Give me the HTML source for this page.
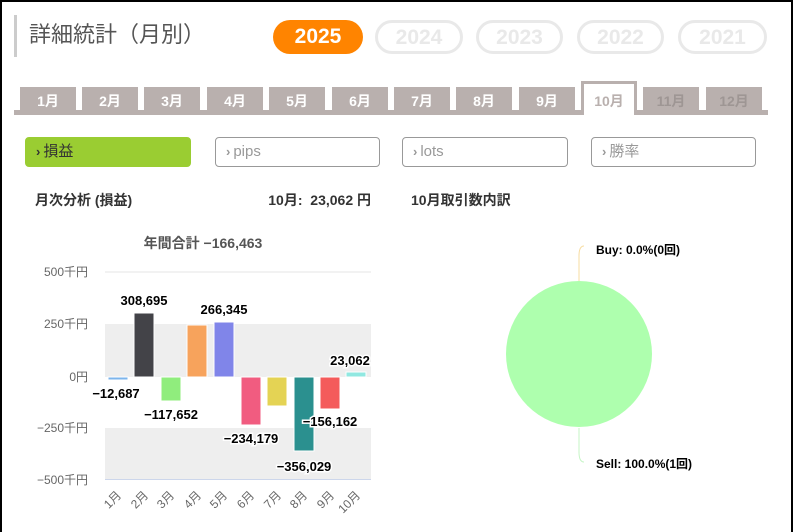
<!DOCTYPE html>
<html><head><meta charset="utf-8"><style>
*{margin:0;padding:0;box-sizing:border-box}
body{width:794px;height:532px;background:#fff;font-family:"Liberation Sans","Noto Sans CJK JP",sans-serif;position:relative;overflow:hidden}
.frame{position:absolute;left:0;top:0;width:793px;height:532px;border:2px solid #000;border-bottom:none}
.abs{position:absolute}
.title{left:14px;top:15px;height:42px;border-left:3px solid #ccc;padding-left:12px;font-size:22px;color:#555;line-height:40px}
.pill{top:20px;height:34px;border-radius:17px;font-size:21px;font-weight:bold;text-align:center;line-height:30px}
.pill.on{background:#ff8400;color:#fff;line-height:34px}
.pill.off{border:3px solid #e9e9e9;color:#e9e9e9}
.tab{top:87px;width:56px;height:26px;background:#b9b0ae;color:#fff;font-size:14px;font-weight:bold;text-align:center;line-height:28px}
.tab.dim{color:#9e9694}
.tab.act{top:81px;height:34px;background:#fff;border:3px solid #b9b0ae;border-bottom:none;color:#b9b0ae;line-height:34px}
.btn{top:137px;height:30px;border:1px solid #999;border-radius:4px;font-size:15px;color:#999;line-height:28px;padding-left:10px}
.btn b{font-size:13px;margin-right:3px}
.h{font-size:14px;font-weight:bold;color:#333;top:190px}
</style></head><body>
<div class="frame"></div>
<div class="abs title">詳細統計（月別）</div>
<div class="abs pill on" style="left:273px;width:90px">2025</div>
<div class="abs pill off" style="left:375px;width:88px">2024</div>
<div class="abs pill off" style="left:476px;width:87px">2023</div>
<div class="abs pill off" style="left:577px;width:87px">2022</div>
<div class="abs pill off" style="left:678px;width:89px">2021</div>
<div class="abs" style="left:14px;top:110px;width:754px;height:5px;background:#b9b0ae"></div>
<div class="abs tab" style="left:20px">1月</div>
<div class="abs tab" style="left:82px">2月</div>
<div class="abs tab" style="left:144px">3月</div>
<div class="abs tab" style="left:207px">4月</div>
<div class="abs tab" style="left:269px">5月</div>
<div class="abs tab" style="left:332px">6月</div>
<div class="abs tab" style="left:394px">7月</div>
<div class="abs tab" style="left:456px">8月</div>
<div class="abs tab" style="left:519px">9月</div>
<div class="abs tab act" style="left:581px">10月</div>
<div class="abs tab dim" style="left:643px">11月</div>
<div class="abs tab dim" style="left:706px">12月</div>
<div class="abs btn" style="left:25px;width:166px;background:#9acd32;border-color:#9acd32;color:#333"><b>›</b>損益</div>
<div class="abs btn" style="left:215px;width:165px"><b>›</b>pips</div>
<div class="abs btn" style="left:402px;width:166px"><b>›</b>lots</div>
<div class="abs btn" style="left:591px;width:165px"><b>›</b>勝率</div>
<div class="abs h" style="left:35px">月次分析 (損益)</div>
<div class="abs h" style="left:220px;width:151px;text-align:right">10月:&nbsp; 23,062 円</div>
<div class="abs h" style="left:411px">10月取引数内訳</div>
<svg class="abs" style="left:0;top:0" width="794" height="532" font-family="Liberation Sans,Noto Sans CJK JP,sans-serif">
<text x="203" y="248" text-anchor="middle" font-size="14" font-weight="bold" fill="#555">年間合計 −166,463</text>
<rect x="105" y="324" width="266" height="53" fill="#eee"/>
<rect x="105" y="428" width="266" height="51" fill="#eee"/>
<line x1="105" y1="272" x2="371" y2="272" stroke="#e6e6e6"/>
<line x1="105" y1="479.5" x2="371" y2="479.5" stroke="#ccd6eb"/>
<g font-size="12" fill="#666" text-anchor="end">
<text x="88" y="276">500千円</text><text x="88" y="328">250千円</text><text x="88" y="381">0円</text><text x="88" y="432">−250千円</text><text x="88" y="484">−500千円</text>
</g>
<g stroke="#fff" stroke-width="1">
<rect x="108" y="377" width="20" height="3" fill="#7cb5ec"/>
<rect x="134" y="313" width="20" height="64" fill="#434348"/>
<rect x="161" y="377" width="20" height="24" fill="#90ed7d"/>
<rect x="187" y="325" width="20" height="52" fill="#f7a35c"/>
<rect x="214" y="322" width="20" height="55" fill="#8085e9"/>
<rect x="241" y="377" width="20" height="48" fill="#f15c80"/>
<rect x="267" y="377" width="20" height="29" fill="#e4d354"/>
<rect x="294" y="377" width="20" height="74" fill="#2b908f"/>
<rect x="320" y="377" width="20" height="32" fill="#f45b5b"/>
<rect x="346" y="372" width="20" height="5" fill="#91e8e1"/>
</g>
<g font-size="13" font-weight="bold" fill="#000" text-anchor="middle" stroke="#fff" stroke-width="3" paint-order="stroke">
<text x="116" y="398">−12,687</text>
<text x="144" y="305">308,695</text>
<text x="171" y="419">−117,652</text>
<text x="224" y="314">266,345</text>
<text x="251" y="443">−234,179</text>
<text x="304" y="471">−356,029</text>
<text x="330" y="426">−156,162</text>
<text x="350" y="365">23,062</text>
</g>
<g font-size="12" fill="#666" text-anchor="end">
<text transform="translate(122,496) rotate(-45)">1月</text>
<text transform="translate(149,496) rotate(-45)">2月</text>
<text transform="translate(175,496) rotate(-45)">3月</text>
<text transform="translate(202,496) rotate(-45)">4月</text>
<text transform="translate(228,496) rotate(-45)">5月</text>
<text transform="translate(255,496) rotate(-45)">6月</text>
<text transform="translate(282,496) rotate(-45)">7月</text>
<text transform="translate(308,496) rotate(-45)">8月</text>
<text transform="translate(335,496) rotate(-45)">9月</text>
<text transform="translate(361,496) rotate(-45)">10月</text>
</g>
<path d="M584 246 Q579 246 579 256 L579 281" stroke="#f7dca0" fill="none"/>
<path d="M579 428 L579 452 Q579 462 584 462" stroke="#c5f5c5" fill="none"/>
<circle cx="579" cy="354" r="73" fill="#aaffaa" opacity="0.95"/>
<g font-size="12" font-weight="bold" fill="#000">
<text x="596" y="254">Buy: 0.0%(0回)</text>
<text x="596" y="468">Sell: 100.0%(1回)</text>
</g>
</svg>
</body></html>
